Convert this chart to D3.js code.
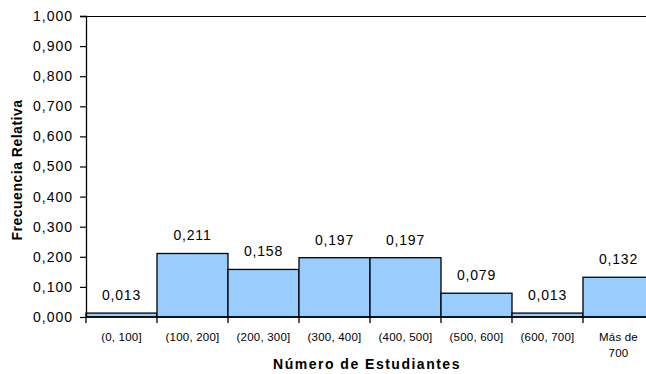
<!DOCTYPE html>
<html>
<head>
<meta charset="utf-8">
<script src="https://cdn.jsdelivr.net/npm/d3@7"></script>
<style>
  body { margin: 0; background: #fff; }
  svg { display: block; font-family: "Liberation Sans", Arial, sans-serif; }
</style>
</head>
<body>
<div id="chart"></div>
<script>
// data
let categories = ["(0, 100]", "(100, 200]", "(200, 300]", "(300, 400]", "(400, 500]", "(500, 600]", "(600, 700]", "Más de 700"];
let frequencies = [0.013, 0.211, 0.158, 0.197, 0.197, 0.079, 0.013, 0.132];
let yTicks = [0, 0.1, 0.2, 0.3, 0.4, 0.5, 0.6, 0.7, 0.8, 0.9, 1.0];

let W = 646, H = 374;
let margin = {top: 16, left: 86, bottom: 57};
let plotW = 568;
let plotH = H - margin.top - margin.bottom;

let svg = d3.select("#chart").append("svg")
    .attr("width", W)
    .attr("height", H);

let g = svg.append("g")
    .attr("transform", `translate(${margin.left}, ${margin.top})`);

// scales
let x = d3.scaleBand()
    .domain(categories)
    .range([0, plotW])
    .padding(0);

let y = d3.scaleLinear()
    .domain([0, 1])
    .range([plotH, 0]);

let fmt = v => d3.format(".3f")(v).replace(".", ",");

// top frame line
g.append("line")
    .attr("x1", 0).attr("x2", plotW)
    .attr("y1", 0.5).attr("y2", 0.5)
    .attr("stroke", "#000").attr("stroke-width", 1.2);

// bars
g.selectAll("rect.bar")
    .data(frequencies)
    .enter().append("rect")
    .attr("class", "bar")
    .attr("x", (d, i) => x(categories[i]))
    .attr("y", d => y(d))
    .attr("width", x.bandwidth())
    .attr("height", d => plotH - y(d))
    .attr("fill", "#99CCFF")
    .attr("stroke", "#000")
    .attr("stroke-width", 1.3);

// value labels
g.selectAll("text.val")
    .data(frequencies)
    .enter().append("text")
    .attr("class", "val")
    .attr("x", (d, i) => x(categories[i]) + x.bandwidth() / 2)
    .attr("y", d => y(d) - 13)
    .attr("text-anchor", "middle")
    .attr("font-size", "14px")
    .attr("letter-spacing", "0.8px")
    .attr("fill", "#000")
    .text(d => fmt(d));

// y axis
let yAxis = d3.axisLeft(y)
    .tickValues(yTicks)
    .tickSize(6)
    .tickPadding(7)
    .tickFormat(fmt);

let yg = g.append("g").call(yAxis);
yg.select(".domain").attr("stroke-width", 1.3).attr("d", `M-6,0.5H0.5V${plotH}`);
yg.selectAll(".tick line").attr("stroke-width", 1.2);
yg.selectAll("text").attr("font-size", "14px").attr("fill", "#000")
    .attr("letter-spacing", "1px")
    .attr("font-family", "'Liberation Sans', Arial, sans-serif");

// x axis baseline
g.append("line")
    .attr("x1", 0).attr("x2", plotW)
    .attr("y1", plotH).attr("y2", plotH)
    .attr("stroke", "#000").attr("stroke-width", 1.3);

// boundary ticks
let bounds = categories.map(c => x(c)).concat([plotW]);
g.selectAll("line.btick")
    .data(bounds)
    .enter().append("line")
    .attr("class", "btick")
    .attr("x1", d => d).attr("x2", d => d)
    .attr("y1", plotH).attr("y2", plotH + 6)
    .attr("stroke", "#000").attr("stroke-width", 1.3);

// x tick labels
let xl = g.selectAll("text.xlab")
    .data(categories)
    .enter().append("text")
    .attr("class", "xlab")
    .attr("x", d => x(d) + x.bandwidth() / 2)
    .attr("y", plotH + 24)
    .attr("text-anchor", "middle")
    .attr("font-size", "11.5px")
    .attr("letter-spacing", "0.2px")
    .attr("fill", "#000");

xl.each(function (d) {
    let t = d3.select(this);
    if (d === "Más de 700") {
        t.append("tspan").attr("x", x(d) + x.bandwidth() / 2).text("Más de");
        t.append("tspan").attr("x", x(d) + x.bandwidth() / 2).attr("dy", 16).text("700");
    } else {
        t.text(d);
    }
});

// axis titles
svg.append("text")
    .attr("x", 367)
    .attr("y", H - 5)
    .attr("text-anchor", "middle")
    .attr("font-size", "14px")
    .attr("font-weight", "bold")
    .attr("letter-spacing", "1.5px")
    .text("Número de Estudiantes");

svg.append("text")
    .attr("transform", `translate(22, 170) rotate(-90)`)
    .attr("text-anchor", "middle")
    .attr("font-size", "14px")
    .attr("font-weight", "bold")
    .attr("letter-spacing", "0.5px")
    .text("Frecuencia Relativa");
</script>
</body>
</html>
